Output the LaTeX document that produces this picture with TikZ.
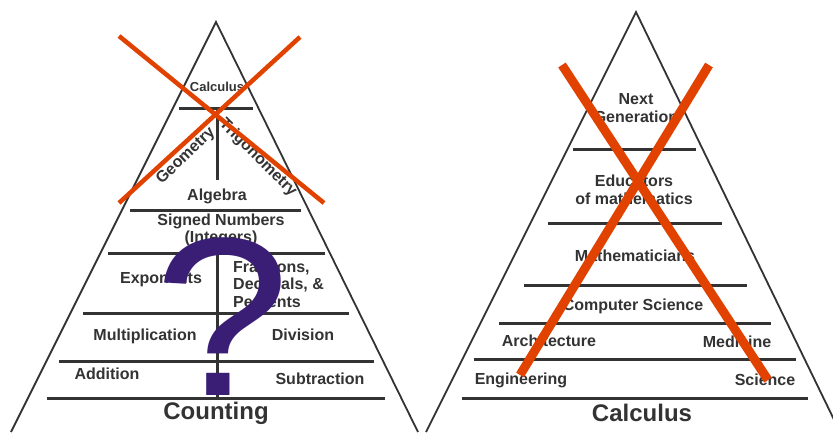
\documentclass[tikz,border=0pt]{standalone}
\usepackage{fontspec}
\setmainfont{Liberation Sans}
\definecolor{ink}{RGB}{51,51,51}
\definecolor{xred}{RGB}{226,66,0}
\definecolor{qpurple}{RGB}{58,30,118}
\begin{document}
\begin{tikzpicture}[x=1pt,y=-1pt]

	\tikzstyle{lbl}=[text=ink,font=\fontsize{16}{17.5}\selectfont\bfseries,inner sep=0pt,align=center]
	\tikzstyle{big}=[lbl,font=\fontsize{24}{26}\selectfont\bfseries]
	\tikzstyle{shelf}=[draw=ink,line width=3pt]
	\tikzstyle{side}=[draw=ink,line width=1.8pt]
	\tikzstyle{cross}=[draw=xred,line width=4.5pt]

	\useasboundingbox (0,0) rectangle (833,432);
	\clip (0,0) rectangle (833,432);

	% left pyramid
	\draw[side] (11,432) -- (216,22) -- (418,432);
	\draw[shelf] (179,108) -- (253,108);
	\draw[shelf] (217,108) -- (217,180);
	\draw[shelf] (130,210) -- (301,210);
	\draw[shelf] (108,253) -- (325,253);
	\draw[shelf] (217,253) -- (217,398);
	\draw[shelf] (83,313) -- (349,313);
	\draw[shelf] (59,361) -- (374,361);
	\draw[shelf] (47,398) -- (385,398);

	% left labels
	\node[lbl,font=\fontsize{13}{14}\selectfont\bfseries] (calc) at (217,87) {Calculus};
	\node[lbl,rotate=44] (geo) at (186,156) {Geometry};
	\node[lbl,rotate=-45] (trig) at (258,158) {Trigonometry};
	\node[lbl] (alg) at (217,196) {Algebra};
	\node[lbl] (signed) at (221,230) {Signed Numbers\\(Integers)};
	\node[lbl] (expo) at (161,280) {Exponents};
	\node[lbl,align=left,anchor=west] (frac) at (233,284) {Fractions,\\Decimals, \&\\Percents};
	\node[lbl] (mult) at (145,336) {Multiplication};
	\node[lbl] (div) at (303,335) {Division};
	\node[lbl] (add) at (107,374) {Addition};
	\node[lbl] (sub) at (320,379) {Subtraction};
	\node[big] (count) at (216,413) {Counting};

	% right pyramid
	\draw[side] (426,432) -- (636,12) -- (840,432);
	\draw[shelf] (573,149) -- (696,149);
	\draw[shelf] (548,223) -- (722,223);
	\draw[shelf] (524,285) -- (747,285);
	\draw[shelf] (499,323) -- (771,323);
	\draw[shelf] (474,359) -- (796,359);
	\draw[shelf] (462,398) -- (808,398);

	% right labels
	\node[lbl] (next) at (636,108) {Next\\Generation};
	\node[lbl] (edu) at (634,190) {Educators\\of mathematics};
	\node[lbl] (mathn) at (635,256) {Mathematicians};
	\node[lbl] (cs) at (633,306) {Computer Science};
	\node[lbl] (arch) at (549,341) {Architecture};
	\node[lbl] (med) at (737,342) {Medicine};
	\node[lbl] (eng) at (521,380) {Engineering};
	\node[lbl] (sci) at (765,380) {Science};
	\node[big] (calc2) at (642,413) {Calculus};

	% marks on top
	\draw[cross] (119,36) -- (324,203);
	\draw[cross] (300,37) -- (119,203);
	\node[anchor=base,inner sep=0pt,text=qpurple,font=\fontsize{226}{226}\selectfont] (qmark) at (222,395) {\scalebox{1.08}[1]{?}};
	\draw[cross,line width=9pt] (562,65) -- (768,380);
	\draw[cross,line width=9pt] (709,65) -- (520,375);
\end{tikzpicture}
\end{document}
